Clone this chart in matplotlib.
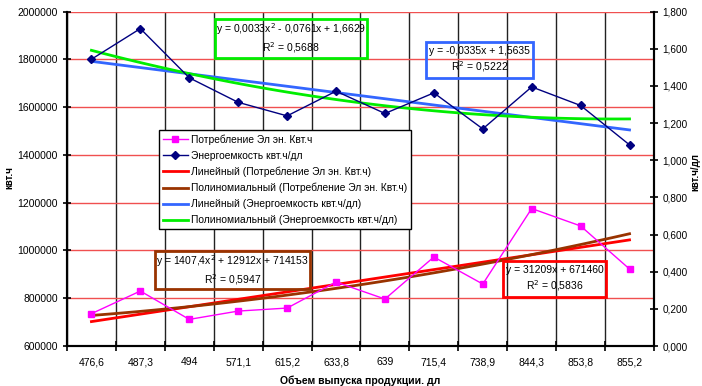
import numpy as np
import matplotlib
matplotlib.use("Agg")
import matplotlib.pyplot as plt
from matplotlib.patches import Rectangle
from matplotlib.ticker import FuncFormatter, FixedLocator

plt.rcParams['font.family'] = ['Liberation Sans', 'DejaVu Sans']

# data
volume = ["476,6", "487,3", "494", "571,1", "615,2", "633,8", "639",
          "715,4", "738,9", "844,3", "853,8", "855,2"]
consumption = [735400, 830200, 711500, 746300, 758900, 867900, 796700,
               972700, 859500, 1175700, 1102700, 922400]
intensity = [1.544, 1.709, 1.444, 1.312, 1.239, 1.372, 1.252,
             1.363, 1.169, 1.395, 1.295, 1.083]
eq_cons_lin = "y = 31209x + 671460\nR$^2$ = 0,5836"
eq_cons_poly = "y = 1407,4x$^2$ + 12912x + 714153\nR$^2$ = 0,5947"
eq_int_lin = "y = -0,0335x + 1,5635\nR$^2$ = 0,5222"
eq_int_poly = "y = 0,0033x$^2$ - 0,0761x + 1,6629\nR$^2$ = 0,5688"

n = len(volume)
pos = np.arange(n)
t = np.arange(1, n + 1)  # Excel trendline x
tt = np.linspace(1, n, 100)

W, H = 702, 386
fig = plt.figure(figsize=(W / 100, H / 100), dpi=100)
ax = fig.add_axes([0.0954, 0.1036, 0.8362, 0.8661])
ax2 = ax.twinx()

# consumption, left axis
l1, = ax.plot(pos, consumption, color="#FF00FF", lw=1, marker="s", ms=5, zorder=4)
c_lin = np.polyfit(t, consumption, 1)
c_poly = np.polyfit(t, consumption, 2)
l3, = ax.plot(tt - 1, np.polyval(c_lin, tt), color="#FF0000", lw=2, zorder=3)
l4, = ax.plot(tt - 1, np.polyval(c_poly, tt), color="#993300", lw=2, zorder=3)

# energy intensity, right axis
l2, = ax2.plot(pos, intensity, color="#000080", lw=1, marker="D", ms=4, zorder=4)
i_lin = np.polyfit(t, intensity, 1)
i_poly = np.polyfit(t, intensity, 2)
l5, = ax2.plot(tt - 1, np.polyval(i_lin, tt), color="#3366FF", lw=2, zorder=3)
l6, = ax2.plot(tt - 1, np.polyval(i_poly, tt), color="#00EE00", lw=2, zorder=3)

ax.set_xlim(-0.5, n - 0.5)
ax.set_ylim(600000, 2000000)
ax2.set_ylim(0, 1.8)

ax.set_xticks(pos)
ax.set_xticklabels(volume, fontsize=7.5)
ax.xaxis.set_minor_locator(FixedLocator(np.arange(-0.5, n, 1)))
ax.tick_params(axis="x", which="major", length=0, pad=8)
ax.tick_params(axis="x", which="minor", length=7, direction="inout", width=1.2)
ax.grid(True, which="minor", axis="x", color="#222222", lw=1)

ax.set_yticks(np.arange(600000, 2000001, 200000))
ax.yaxis.set_major_formatter(FuncFormatter(lambda v, p: f"{int(v)}"))
ax.tick_params(axis="y", labelsize=7.5, length=6, direction="inout", width=1.2)
ax.grid(True, which="major", axis="y", color="#F05050", lw=1)

ax2.set_yticks(np.arange(0, 1.81, 0.2))
ax2.yaxis.set_major_formatter(FuncFormatter(lambda v, p: f"{v:.3f}".replace(".", ",")))
ax2.tick_params(axis="y", labelsize=7.2, length=6, direction="inout", width=1.2, pad=3)

for a in (ax, ax2):
    a.spines["top"].set_visible(False)
    a.spines["left"].set_linewidth(1.5)
    a.spines["right"].set_linewidth(1.5)
    a.spines["bottom"].set_linewidth(1.5)

# axis titles
fig.text(9 / W, 1 - 178 / H, "квт.ч", rotation=90, ha="center", va="center",
         fontsize=7, fontweight="bold")
fig.text(695 / W, 1 - 172 / H, "квт.ч/дл", rotation=90, ha="center", va="center",
         fontsize=7, fontweight="bold")
ax.set_xlabel("Объем выпуска продукции. дл", fontsize=7.5, fontweight="bold", labelpad=6)

labels = ["Потребление Эл эн. Квт.ч", "Энергоемкость квт.ч/дл",
          "Линейный (Потребление Эл эн. Квт.ч)",
          "Полиномиальный (Потребление Эл эн. Квт.ч)",
          "Линейный (Энергоемкость квт.ч/дл)",
          "Полиномиальный (Энергоемкость квт.ч/дл)"]
leg = ax2.legend([l1, l2, l3, l4, l5, l6], labels, loc="upper left",
                 bbox_to_anchor=(0.2265, 0.6632), bbox_transform=fig.transFigure,
                 borderaxespad=0, fontsize=7.4, fancybox=False, framealpha=1,
                 edgecolor="black", numpoints=1, handlelength=2.4,
                 labelspacing=0.58, borderpad=0.4, handletextpad=0.3)
leg.get_frame().set_linewidth(1)
leg.set_zorder(10)

def eq_box(x0, y0, x1, y1, txt, col):
    # box corners in pixels from top-left
    fig.patches.append(Rectangle((x0 / W, 1 - y1 / H), (x1 - x0) / W, (y1 - y0) / H,
                                 transform=fig.transFigure, fill=False, ec=col,
                                 lw=2, zorder=11))
    fig.text((x0 + x1) / 2 / W, 1 - (y0 + y1) / 2 / H, txt, ha="center", va="center",
             fontsize=7.5, linespacing=1.3, zorder=12)

eq_box(215, 19, 367, 58, eq_int_poly, "#00EE00")
eq_box(426, 42, 533, 78, eq_int_lin, "#3366FF")
eq_box(155, 251, 310, 289, eq_cons_poly, "#993300")
eq_box(503, 261, 606, 297, eq_cons_lin, "#FF0000")

fig.savefig("out.png", dpi=100)
